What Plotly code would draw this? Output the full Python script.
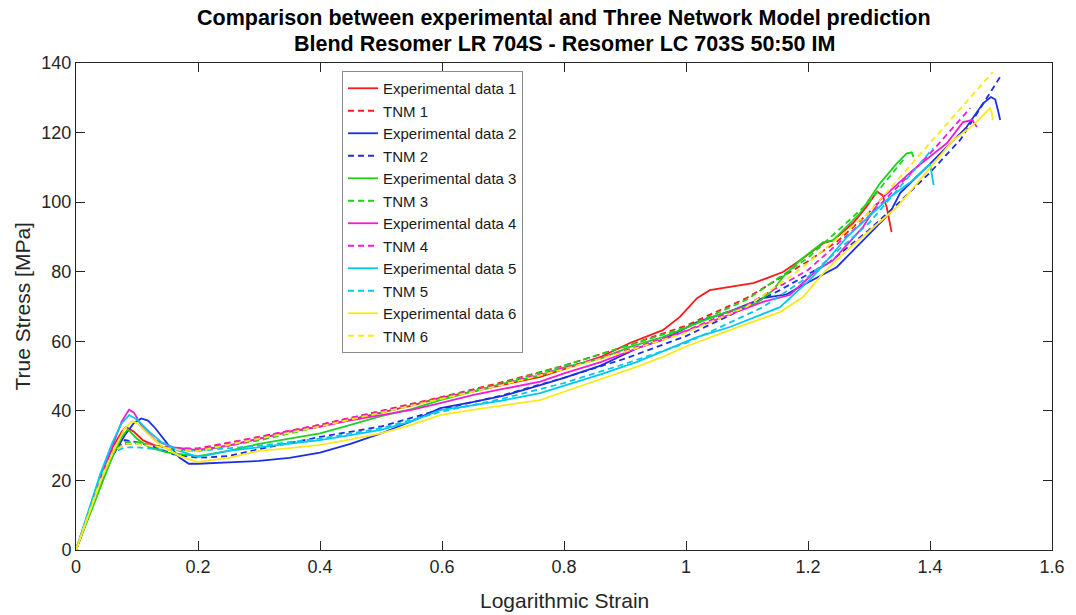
import plotly.graph_objects as go

# ---------------- data ----------------
exp1_x = [0, 0.02, 0.04, 0.06, 0.075, 0.082, 0.095, 0.11, 0.13, 0.16, 0.2, 0.25, 0.3, 0.35, 0.4, 0.45, 0.5, 0.55,
          0.597, 0.65, 0.7, 0.761, 0.8, 0.86, 0.908, 0.962, 0.99, 1.018, 1.039, 1.072, 1.11, 1.138, 1.159, 1.192,
          1.225, 1.241, 1.274, 1.295, 1.307, 1.313, 1.322, 1.329, 1.333, 1.337]
exp1_y = [0, 10, 20.5, 29.5, 34, 35.4, 34, 31.5, 30, 29, 28.7, 30, 32, 34, 35.5, 37.5, 39.7, 41.5,
          43.7, 45.5, 47.5, 49.8, 52, 55.5, 59.5, 63.2, 67, 72.4, 74.7, 75.6, 76.7, 78.5, 79.9, 83.9,
          88.2, 89, 94, 98.5, 101.4, 103, 102, 98.6, 95, 91.4]

tnm1_x = [0, 0.02, 0.04, 0.06, 0.08, 0.1, 0.13, 0.17, 0.2, 0.3, 0.4, 0.5, 0.6, 0.7, 0.8, 0.9, 1.0, 1.1, 1.2, 1.25, 1.3, 1.32]
tnm1_y = [0, 10, 20.5, 28.5, 30.5, 30.8, 30, 29.2, 29.2, 32.5, 36, 40, 44, 48.3, 53, 58.5, 64.5, 72.5, 83, 89, 97, 101]

exp2_x = [0, 0.02, 0.04, 0.06, 0.08, 0.095, 0.107, 0.118, 0.13, 0.15, 0.17, 0.185, 0.2, 0.25, 0.3, 0.35, 0.4, 0.45,
          0.5, 0.55, 0.597, 0.65, 0.7, 0.761, 0.8, 0.86, 0.92, 0.962, 1.018, 1.07, 1.126, 1.165, 1.192, 1.247,
          1.29, 1.334, 1.351, 1.4, 1.46, 1.487, 1.5, 1.507, 1.512, 1.515]
exp2_y = [0, 9.5, 19, 27, 33, 36.5, 37.8, 37.2, 35, 30.5, 26.5, 24.8, 24.8, 25.2, 25.6, 26.5, 28, 30.5,
          33.5, 37, 40.8, 42.5, 44.3, 47.4, 49.5, 53, 58, 60.5, 65.5, 68.5, 72.4, 73.5, 76.2, 81.3,
          89, 96.8, 102.6, 111, 121.6, 128.4, 130.2, 129.5, 126, 123.6]

tnm2_x = [0, 0.02, 0.04, 0.06, 0.08, 0.1, 0.13, 0.16, 0.2, 0.25, 0.3, 0.4, 0.5, 0.6, 0.7, 0.8, 0.9, 1.0, 1.072, 1.154, 1.236,
          1.3, 1.35, 1.4, 1.45, 1.515]
tnm2_y = [0, 9.5, 19, 27.5, 31.6, 31, 29.5, 27.5, 26.5, 27, 29, 32.5, 35.5, 40.5, 44.5, 49.5, 55, 61.5, 67.5, 74.7, 82.8,
          92, 100, 108.5, 118, 136]

exp3_x = [0, 0.02, 0.04, 0.06, 0.075, 0.085, 0.1, 0.12, 0.15, 0.2, 0.25, 0.3, 0.35, 0.4, 0.45, 0.5, 0.55, 0.597,
          0.65, 0.7, 0.761, 0.8, 0.86, 0.908, 0.962, 1.044, 1.116, 1.143, 1.159, 1.175, 1.187, 1.225, 1.241, 1.285,
          1.318, 1.346, 1.362, 1.37, 1.373]
exp3_y = [0, 9, 18.5, 27, 32.5, 34.7, 32, 29.5, 28, 27, 28.5, 30.5, 32, 33.5, 36, 38.5, 40.5, 43.1,
          45.5, 47.8, 50.3, 52.5, 55, 58.4, 61.2, 67, 71, 74.7, 78.5, 81.3, 83.3, 88.5, 89, 96.8,
          105.4, 111.2, 114, 114.3, 113]

tnm3_x = [0, 0.02, 0.04, 0.06, 0.08, 0.1, 0.13, 0.17, 0.2, 0.3, 0.4, 0.5, 0.6, 0.7, 0.8, 0.9, 1.0, 1.1, 1.2, 1.3, 1.36]
tnm3_y = [0, 9.5, 19.5, 28, 31, 31, 30, 28.8, 28.5, 31.5, 35.5, 39.5, 43.8, 48, 53, 58.5, 64, 72, 84, 100, 113]

exp4_x = [0, 0.02, 0.04, 0.06, 0.075, 0.087, 0.095, 0.11, 0.13, 0.16, 0.2, 0.25, 0.3, 0.35, 0.4, 0.45, 0.5, 0.55,
          0.597, 0.65, 0.7, 0.761, 0.8, 0.86, 0.92, 0.962, 1.018, 1.07, 1.126, 1.17, 1.215, 1.241, 1.29, 1.318,
          1.372, 1.428, 1.454, 1.469, 1.474, 1.477]
exp4_y = [0, 10.5, 21, 30, 37, 40.3, 39.5, 35, 31.5, 29.5, 28.7, 30, 32, 34, 35.5, 37.3, 38.8, 40.3,
          42.2, 44.5, 46.3, 48.4, 50.8, 54, 58, 60.5, 64.1, 67.5, 71.3, 73.3, 80.5, 83.3, 92.8, 100.6,
          109.2, 117, 123, 123.6, 122.5, 121.6]

tnm4_x = [0, 0.02, 0.04, 0.06, 0.08, 0.1, 0.13, 0.17, 0.2, 0.3, 0.4, 0.5, 0.6, 0.7, 0.8, 0.9, 1.0, 1.1, 1.2, 1.3, 1.4, 1.466]
tnm4_y = [0, 10, 20, 28, 30.5, 30.5, 30, 29.2, 29, 32.5, 36, 39.8, 43.8, 47.8, 52.3, 57.3, 63, 70.5, 80.5, 96, 114, 127]

exp5_x = [0, 0.02, 0.04, 0.06, 0.075, 0.087, 0.1, 0.12, 0.14, 0.17, 0.2, 0.25, 0.3, 0.35, 0.4, 0.45, 0.5, 0.55,
          0.597, 0.65, 0.7, 0.761, 0.8, 0.86, 0.92, 0.962, 1.018, 1.072, 1.154, 1.208, 1.264, 1.334, 1.37, 1.4,
          1.403, 1.406]
exp5_y = [0, 11, 22, 31, 36.5, 38.8, 37.5, 34, 31, 28.5, 26.7, 28.5, 29.5, 30.5, 31.6, 33, 34.5, 37,
          40.2, 41.6, 43, 45.1, 47.2, 50.5, 54.1, 57.2, 61.2, 64.1, 69.8, 78.5, 90, 101.4, 106, 111,
          108, 104.9]

tnm5_x = [0, 0.02, 0.04, 0.06, 0.08, 0.1, 0.13, 0.17, 0.2, 0.3, 0.4, 0.5, 0.6, 0.7, 0.8, 0.9, 1.0, 1.126, 1.2, 1.3, 1.405]
tnm5_y = [0, 10.5, 21, 28, 29.5, 29.5, 29, 28.6, 28.5, 30, 32, 35, 39.8, 43.5, 48, 53.5, 59.5, 69.8, 78.5, 94, 115.5]

exp6_x = [0, 0.02, 0.04, 0.06, 0.08, 0.092, 0.1, 0.12, 0.14, 0.17, 0.2, 0.25, 0.3, 0.35, 0.4, 0.45, 0.5, 0.55,
          0.597, 0.65, 0.7, 0.761, 0.8, 0.86, 0.92, 0.962, 1.0, 1.072, 1.154, 1.192, 1.225, 1.264, 1.346, 1.438,
          1.47, 1.49, 1.498, 1.501, 1.503]
exp6_y = [0, 9.5, 19.5, 28, 35, 37, 36.5, 33, 30, 27, 25.3, 26.5, 28.5, 29.3, 30.2, 31.8, 33.5, 36,
          38.8, 40.3, 41.5, 43.1, 45.5, 49, 52.7, 55.5, 58.5, 63.2, 68.4, 72.7, 79.6, 86.2, 98.6, 117.8,
          122, 125.5, 127, 126, 123.6]

tnm6_x = [0, 0.02, 0.04, 0.06, 0.08, 0.1, 0.13, 0.17, 0.2, 0.3, 0.4, 0.5, 0.6, 0.7, 0.8, 0.9, 1.0, 1.1, 1.182, 1.3, 1.4, 1.503]
tnm6_y = [0, 10, 20, 28, 30.5, 30.5, 29.8, 28.8, 28.5, 32, 35.5, 39.5, 43.5, 47.5, 52, 57, 62.5, 70, 80, 97, 117, 137.4]

x_ticks = [0, 0.2, 0.4, 0.6, 0.8, 1.0, 1.2, 1.4, 1.6]
x_tick_labels = ["0", "0.2", "0.4", "0.6", "0.8", "1", "1.2", "1.4", "1.6"]
y_ticks = [0, 20, 40, 60, 80, 100, 120, 140]
y_tick_labels = ["0", "20", "40", "60", "80", "100", "120", "140"]

series_names = ["Experimental data 1", "TNM 1", "Experimental data 2", "TNM 2",
                "Experimental data 3", "TNM 3", "Experimental data 4", "TNM 4",
                "Experimental data 5", "TNM 5", "Experimental data 6", "TNM 6"]
series_data = [(exp1_x, exp1_y), (tnm1_x, tnm1_y), (exp2_x, exp2_y), (tnm2_x, tnm2_y),
               (exp3_x, exp3_y), (tnm3_x, tnm3_y), (exp4_x, exp4_y), (tnm4_x, tnm4_y),
               (exp5_x, exp5_y), (tnm5_x, tnm5_y), (exp6_x, exp6_y), (tnm6_x, tnm6_y)]
colors = ["#ff1a1a", "#ff1a1a", "#1c2fe0", "#1c2fe0", "#1ed21e", "#1ed21e",
          "#f51ad8", "#f51ad8", "#00c8f0", "#00c8f0", "#ffe81a", "#ffe81a"]

FONT = "Liberation Sans, Arial, Helvetica, sans-serif"
AX = "#262626"

fig = go.Figure()
for i, (name, (xs, ys)) in enumerate(zip(series_names, series_data)):
    fig.add_trace(go.Scatter(
        x=xs, y=ys, mode="lines", name=name,
        line=dict(color=colors[i], width=1.8, dash="solid" if i % 2 == 0 else "6px,4px"),
    ))

fig.update_layout(
    width=1076, height=615,
    margin=dict(l=76, r=24, t=63, b=65, autoexpand=False),
    paper_bgcolor="white", plot_bgcolor="white",
    font=dict(family=FONT, color=AX, size=16),
    showlegend=True,
    legend=dict(
        x=(342 - 76) / 976, y=1 - (71 - 63) / 487, xanchor="left", yanchor="top",
        bordercolor="#8c8c8c", borderwidth=1, bgcolor="white",
        font=dict(family=FONT, size=15, color="#1a1a1a"),
        tracegroupgap=0, itemwidth=30,
    ),
    annotations=[
        dict(text="<b>Comparison between experimental and Three Network Model prediction</b>",
             xref="paper", yref="paper", x=0.5, y=1, yshift=45, xanchor="center", yanchor="middle",
             showarrow=False, font=dict(family=FONT, size=21.5, color="black")),
        dict(text="<b>Blend Resomer LR 704S - Resomer LC 703S 50:50 IM</b>",
             xref="paper", yref="paper", x=0.5, y=1, yshift=19, xanchor="center", yanchor="middle",
             showarrow=False, font=dict(family=FONT, size=21.5, color="black")),
        dict(text="Logarithmic Strain",
             xref="paper", yref="paper", x=0.5, y=0, yshift=-50, xanchor="center", yanchor="middle",
             showarrow=False, font=dict(family=FONT, size=21, color=AX)),
        dict(text="True Stress [MPa]", textangle=-90,
             xref="paper", yref="paper", x=0, y=0.5, xshift=-54, xanchor="center", yanchor="middle",
             showarrow=False, font=dict(family=FONT, size=21, color=AX)),
    ],
)

fig.update_xaxes(
    range=[0, 1.6], tickvals=x_ticks, ticktext=x_tick_labels,
    showgrid=False, zeroline=False, automargin=False,
    showline=True, linecolor=AX, linewidth=1, mirror="ticks",
    ticks="inside", ticklen=9, tickcolor=AX,
    tickfont=dict(size=18, color=AX),
)
fig.update_yaxes(
    range=[0, 140], tickvals=y_ticks, ticktext=y_tick_labels,
    showgrid=False, zeroline=False, automargin=False,
    showline=True, linecolor=AX, linewidth=1, mirror="ticks",
    ticks="inside", ticklen=9, tickcolor=AX,
    tickfont=dict(size=18, color=AX),
)

fig.write_html("out.html", config={"displayModeBar": False},
               post_script="document.body.style.margin='0';")
